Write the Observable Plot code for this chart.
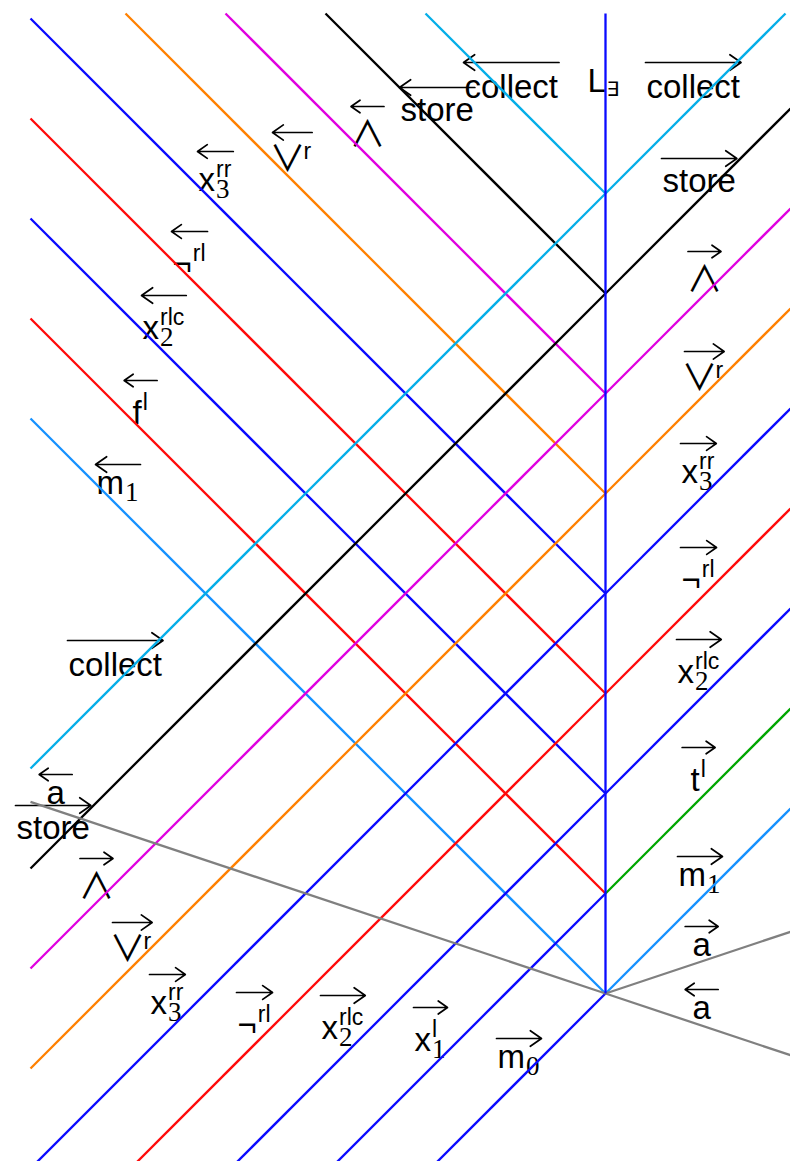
<!DOCTYPE html>
<html>
<head>
<meta charset="utf-8">
<script src="https://cdn.jsdelivr.net/npm/d3@7"></script>
<script src="https://cdn.jsdelivr.net/npm/@observablehq/plot@0.6"></script>
<style>html,body{margin:0;padding:0;background:#fff}</style>
</head>
<body>
<div id="chart"></div>
<script>
// ---------- data (diagram units: spine at x = 0, apex at y = 0) ----------
// each world line: [signal, x1, y1, x2, y2]
const spineLines = [
  ["spine", 0, 0, 0, 9.8]
];
const rightMoversBefore = [
  ["m0", -5.75, -5.75, 0, 0],
  ["x1", -5.75, -4.75, 0, 1],
  ["x2", -5.75, -3.75, 0, 2],
  ["neg", -5.75, -2.75, 0, 3],
  ["x3", -5.75, -1.75, 0, 4],
  ["or", -5.75, -0.75, 0, 5],
  ["and", -5.75, 0.25, 0, 6],
  ["store", -5.75, 1.25, 0, 7],
  ["collect", -5.75, 2.25, 0, 8]
];
const rightMoversAfter = [
  ["m1", 0, 0, 1.85, 1.85],
  ["t", 0, 1, 1.85, 2.85],
  ["x2", 0, 2, 1.85, 3.85],
  ["neg", 0, 3, 1.85, 4.85],
  ["x3", 0, 4, 1.85, 5.85],
  ["or", 0, 5, 1.85, 6.85],
  ["and", 0, 6, 1.85, 7.85],
  ["store", 0, 7, 1.85, 8.85],
  ["collect", 0, 8, 1.8, 9.8]
];
const leftMovers = [
  ["m1", -5.75, 5.75, 0, 0],
  ["f", -5.75, 6.75, 0, 1],
  ["x2", -5.75, 7.75, 0, 2],
  ["neg", -5.75, 8.75, 0, 3],
  ["x3", -5.75, 9.75, 0, 4],
  ["or", -4.8, 9.8, 0, 5],
  ["and", -3.8, 9.8, 0, 6],
  ["store", -2.8, 9.8, 0, 7],
  ["collect", -1.8, 9.8, 0, 8]
];
const aLines = [
  ["a", -5.75, 1.917, 0, 0],
  ["a", 0, 0, 1.85, -0.617],
  ["a", 0, 0, 1.85, 0.617]
];

// labels: base text, superscript, subscript, arrow direction, anchor (left, baseline)
const labels = [
  {base: "collect", dir: "←", x: -1.41, y: 8.96},
  {base: "store", dir: "←", x: -2.05, y: 8.73},
  {base: "∧", dir: "←", x: -2.52, y: 8.47},
  {base: "∨", sup: "r", dir: "←", x: -3.32, y: 8.21},
  {base: "x", sup: "rr", sub: "3", dir: "←", x: -4.07, y: 8.03},
  {base: "¬", sup: "rl", dir: "←", x: -4.33, y: 7.19},
  {base: "x", sup: "rlc", sub: "2", dir: "←", x: -4.63, y: 6.55},
  {base: "f", sup: "l", dir: "←", x: -4.73, y: 5.70},
  {base: "m", sub: "1", dir: "←", x: -5.09, y: 5.00},
  {base: "collect", dir: "→", x: -5.37, y: 3.18},
  {base: "a", dir: "←", x: -5.59, y: 1.90},
  {base: "store", dir: "→", x: -5.89, y: 1.55},
  {base: "∧", dir: "→", x: -5.23, y: 0.95},
  {base: "∨", sup: "r", dir: "→", x: -4.92, y: 0.31},
  {base: "x", sup: "rr", sub: "3", dir: "→", x: -4.55, y: -0.20},
  {base: "¬", sup: "rl", dir: "→", x: -3.68, y: -0.42},
  {base: "x", sup: "rlc", sub: "2", dir: "→", x: -2.84, y: -0.45},
  {base: "x", sup: "l", sub: "1", dir: "→", x: -1.91, y: -0.57},
  {base: "m", sub: "0", dir: "→", x: -1.08, y: -0.74},
  {base: "∧", dir: "→", x: 0.85, y: 7.02},
  {base: "∨", sup: "r", dir: "→", x: 0.80, y: 6.02},
  {base: "x", sup: "rr", sub: "3", dir: "→", x: 0.76, y: 5.11},
  {base: "¬", sup: "rl", dir: "→", x: 0.76, y: 4.03},
  {base: "x", sup: "rlc", sub: "2", dir: "→", x: 0.72, y: 3.11},
  {base: "t", sup: "l", dir: "→", x: 0.85, y: 2.03},
  {base: "m", sub: "1", dir: "→", x: 0.73, y: 1.08},
  {base: "a", dir: "→", x: 0.87, y: 0.38},
  {base: "a", dir: "←", x: 0.87, y: -0.25},
  {base: "L", sub: "∃", x: -0.18, y: 9.02},
  {base: "collect", dir: "→", x: 0.41, y: 8.96},
  {base: "store", dir: "→", x: 0.57, y: 8.02}
];

// ---------- styles ----------
const palette = {
  spine: "#0a0aff", m0: "#0a0aff", x1: "#0a0aff", x2: "#0a0aff", x3: "#0a0aff",
  neg: "#ff0a0a", f: "#ff0a0a", or: "#ff8000", and: "#e000e0", store: "#000000",
  collect: "#05aee8", m1: "#1691ff", t: "#00a600", a: "#808080"
};
const SANS = '"Liberation Sans", "DejaVu Sans", sans-serif';
const SERIF = '"Liberation Serif", "DejaVu Serif", serif';
const F = {
  base: {size: 33, family: SANS},
  op: {size: 36, family: '"Noto Sans CJK JP", "DejaVu Sans", sans-serif'},
  sup: {size: 23, family: SANS},
  sub: {size: 27, family: SERIF},
  subSym: {size: 20, family: SANS}
};
const RAISE = 14, DROP = 7, DROP_SYM = 4, ARROW_GAP = 11, ARROW_MIN = 33;

const W = 790, H = 1161;
const xDomain = [-6.05, 1.85], yDomain = [-1.68, 9.93];
const kx = W / (xDomain[1] - xDomain[0]);
const ky = H / (yDomain[1] - yDomain[0]);

const ctx = document.createElement("canvas").getContext("2d");
function measure(text, f) {
  ctx.font = `${f.size}px ${f.family}`;
  const m = ctx.measureText(text);
  return {w: m.width, asc: m.actualBoundingBoxAscent, desc: m.actualBoundingBoxDescent,
          l: m.actualBoundingBoxLeft, r: m.actualBoundingBoxRight};
}

const baseRows = [], opRows = [], supRows = [], subRows = [], symRows = [], arrowRows = [];
for (const L of labels) {
  const isOp = /[∧∨]/.test(L.base);
  const bf = isOp ? F.op : F.base;
  const b = measure(L.base, bf);
  // operators: place by ink extent, sitting on the baseline
  const bw = isOp ? b.r + 1 : b.w;
  const bx = isOp ? L.x + b.l / kx : L.x;
  const by = isOp ? L.y + b.desc / ky : L.y;
  let top = isOp ? b.asc + b.desc : b.asc, scriptW = 0;
  (isOp ? opRows : baseRows).push({x: bx, y: by, text: L.base});
  const xs = bx + (bw + 1) / kx;
  if (L.sup) {
    const s = measure(L.sup, F.sup);
    supRows.push({x: xs, y: L.y + RAISE / ky, text: L.sup});
    scriptW = Math.max(scriptW, s.w);
    top = Math.max(top, RAISE + s.asc);
  }
  if (L.sub) {
    const digit = /\d/.test(L.sub);
    const f = digit ? F.sub : F.subSym;
    const drop = digit ? DROP : DROP_SYM;
    const s = measure(L.sub, f);
    (digit ? subRows : symRows).push({x: xs, y: L.y - drop / ky, text: L.sub});
    scriptW = Math.max(scriptW, s.w);
    top = Math.max(top, s.asc - drop);
  }
  const width = (isOp ? b.r + b.l : b.w) + (scriptW ? scriptW + 2 : 0);
  if (L.dir) {
    const len = Math.max(width + 2, ARROW_MIN);
    const cx = L.x + width / 2 / kx;
    const ya = L.y + (top + ARROW_GAP) / ky;
    const lo = cx - len / 2 / kx, hi = cx + len / 2 / kx;
    arrowRows.push(L.dir === "→" ? {x1: lo, x2: hi, y: ya} : {x1: hi, x2: lo, y: ya});
  }
}

const allLines = [...leftMovers, ...rightMoversBefore, ...rightMoversAfter, ...aLines, ...spineLines];
const textOpts = (f) => ({x: "x", y: "y", text: "text", textAnchor: "start", lineAnchor: "bottom",
  fontSize: f.size, fontFamily: f.family, fill: "black"});

const chart = Plot.plot({
  width: W, height: H, margin: 0,
  x: {domain: xDomain, axis: null},
  y: {domain: yDomain, axis: null},
  color: {type: "identity"},
  style: {background: "white"},
  marks: [
    Plot.text(baseRows, textOpts(F.base)),
    Plot.text(opRows, textOpts(F.op)),
    Plot.text(supRows, textOpts(F.sup)),
    Plot.text(subRows, textOpts(F.sub)),
    Plot.text(symRows, textOpts(F.subSym)),
    Plot.arrow(arrowRows, {x1: "x1", x2: "x2", y1: "y", y2: "y", stroke: "black",
      strokeWidth: 1.7, headLength: 12, headAngle: 70}),
    Plot.link(allLines, {
      x1: d => d[1], y1: d => d[2], x2: d => d[3], y2: d => d[4],
      stroke: d => palette[d[0]], strokeWidth: 2.3, clip: true
    })
  ]
});
document.getElementById("chart").appendChild(chart);
</script>
</body>
</html>
